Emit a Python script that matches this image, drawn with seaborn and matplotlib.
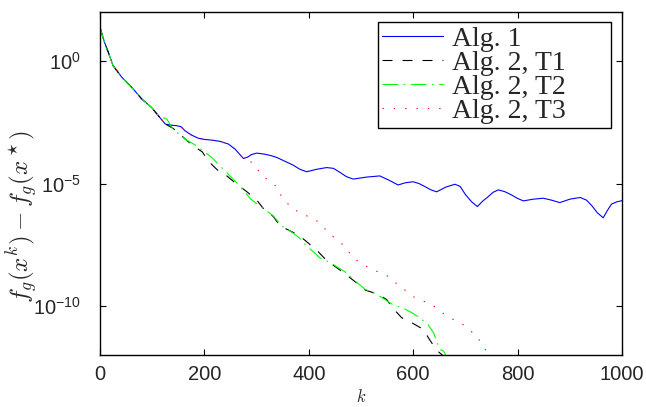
import numpy as np
import matplotlib
matplotlib.use("Agg")
import matplotlib.pyplot as plt
import seaborn as sns

# common start of all four runs (iteration k, log10 of the gap)
k_start = [0, 8, 16, 25, 42, 61, 80, 99, 112, 125]
lg_start = [1.37, 0.80, 0.35, -0.19, -0.67, -1.08, -1.55, -1.90, -2.24, -2.57]

# Alg. 1 after k = 125
k_alg1 = [136, 147, 155, 163, 175, 188, 200, 214, 230, 246, 259, 268, 275, 283,
          290, 300, 315, 329, 339, 355, 370, 383, 396, 415, 434, 447, 460, 472,
          485, 510, 536, 555, 571, 585, 600, 611, 622, 634, 645, 662, 680, 690,
          700, 712, 723, 733, 743, 753, 763, 775, 787, 799, 811, 830, 849, 865,
          881, 900, 920, 932, 942, 953, 964, 972, 980, 990, 1000]
lg_alg1 = [-2.62, -2.64, -2.68, -2.85, -3.02, -3.15, -3.20, -3.23, -3.28, -3.39,
           -3.60, -3.82, -3.98, -3.92, -3.82, -3.76, -3.80, -3.87, -3.94, -4.10,
           -4.25, -4.42, -4.52, -4.42, -4.35, -4.38, -4.55, -4.72, -4.82, -4.74,
           -4.69, -4.88, -5.06, -4.97, -4.93, -5.00, -5.12, -5.26, -5.34, -5.15,
           -5.03, -5.12, -5.45, -5.75, -5.94, -5.72, -5.55, -5.36, -5.26, -5.33,
           -5.45, -5.60, -5.71, -5.64, -5.60, -5.68, -5.78, -5.64, -5.57, -5.68,
           -5.90, -6.20, -6.40, -6.10, -5.84, -5.75, -5.70]

# Alg. 2, T1 (after k = 125)
k_t1 = [140, 160, 176, 196, 208, 230, 243, 262, 281, 300, 313, 332, 345, 361,
        380, 399, 416, 434, 453, 469, 487, 508, 530, 549, 561, 578, 597, 619,
        631, 645, 654, 662]
lg_t1 = [-2.75, -3.12, -3.43, -3.71, -4.10, -4.55, -4.69, -5.03, -5.33, -5.67,
         -6.02, -6.35, -6.73, -6.90, -7.10, -7.43, -7.74, -8.14, -8.43, -8.68,
         -8.98, -9.35, -9.50, -9.73, -10.09, -10.48, -10.68, -10.95, -11.36,
         -11.81, -11.97, -12.10]

# Alg. 2, T2 (after k = 112)
k_t2 = [128, 140, 163, 185, 214, 230, 252, 268, 289, 303, 332, 348, 364, 380,
        396, 421, 441, 469, 489, 508, 530, 562, 581, 597, 613, 629, 639, 645,
        651, 658, 665]
lg_t2 = [-2.37, -2.78, -3.19, -3.46, -3.94, -4.28, -4.76, -5.10, -5.64, -5.87,
         -6.32, -6.73, -6.94, -7.18, -7.55, -8.03, -8.23, -8.60, -8.98, -9.32,
         -9.52, -9.96, -10.09, -10.27, -10.48, -10.78, -11.09, -11.43, -11.77,
         -11.84, -12.10]

# Alg. 2, T3 (follows Alg. 1 up to k = 275)
k_t3 = [291, 313, 329, 340, 347, 358, 370, 386, 417, 441, 466, 487, 517, 549,
        575, 603, 635, 664, 695, 722, 739, 745]
lg_t3 = [-4.14, -4.73, -4.95, -5.17, -5.50, -5.78, -6.05, -6.21, -6.55, -7.07,
         -7.51, -8.07, -8.47, -8.75, -9.20, -9.66, -9.93, -10.41, -10.75,
         -11.23, -11.81, -12.10]

labels = ["Alg. 1", "Alg. 2, T1", "Alg. 2, T2", "Alg. 2, T3"]
x_ticks = [0, 200, 400, 600, 800, 1000]
y_ticks = [1e0, 1e-5, 1e-10]

n_t3 = k_alg1.index(275) + 1
series = [
    (k_start + k_alg1, lg_start + lg_alg1),
    (k_start + k_t1, lg_start + lg_t1),
    (k_start[:-1] + k_t2, lg_start[:-1] + lg_t2),
    (k_start + k_alg1[:n_t3] + k_t3, lg_start + lg_alg1[:n_t3] + lg_t3),
]

colors = ["#0000ff", "#000000", "#00ff00", "#ff0000"]
styles = ["-", (0, (9, 9)), (0, (14, 5, 1.5, 5)), (0, (1.2, 9))]

sns.set_style("ticks")
plt.rcParams["font.family"] = ["Liberation Sans", "DejaVu Sans"]
plt.rcParams["mathtext.fontset"] = "cm"

fig = plt.figure(figsize=(6.46, 4.07), dpi=100)
ax = fig.add_axes([100 / 646, 1 - 355 / 407, 522 / 646, 343 / 407])

for (kk, lg), c, ls, lab in zip(series, colors, styles, labels):
    sns.lineplot(x=kk, y=10.0 ** np.array(lg), ax=ax, color=c, linestyle=ls,
                 linewidth=0.8, label=lab, sort=False, estimator=None)

ax.set_yscale("log")
ax.set_xlim(0, 1000)
ax.set_ylim(1e-12, 1e2)
ax.set_xticks(x_ticks)
ax.set_yticks(y_ticks)
ax.yaxis.set_minor_locator(matplotlib.ticker.NullLocator())
ax.tick_params(direction="in", top=True, right=True, length=4, width=0.8,
               labelsize=14.5, color="black")
ax.tick_params(axis="x", pad=7)
ax.tick_params(axis="y", pad=14)
for s in ax.spines.values():
    s.set_linewidth(1.0)
    s.set_color("black")

ax.set_ylabel(r"$f_g(x^k) - f_g(x^\star)$", fontsize=18)
ax.yaxis.set_label_coords(-0.115, 0.405)
ax.set_xlabel(r"$k$", fontsize=12)
ax.xaxis.set_label_coords(0.5, -0.095)

leg = ax.legend(loc="upper left",
                bbox_to_anchor=(378 / 646, 1 - 130 / 407, 233 / 646, 108 / 407),
                bbox_transform=fig.transFigure, mode="expand", borderaxespad=0,
                fancybox=False, framealpha=1, edgecolor="black",
                prop={"family": "Liberation Serif", "size": 20},
                handlelength=2.2, handletextpad=0.3, labelspacing=-0.05,
                borderpad=0.15)
leg.get_frame().set_linewidth(1.0)

fig.savefig("out.png", dpi=100)
